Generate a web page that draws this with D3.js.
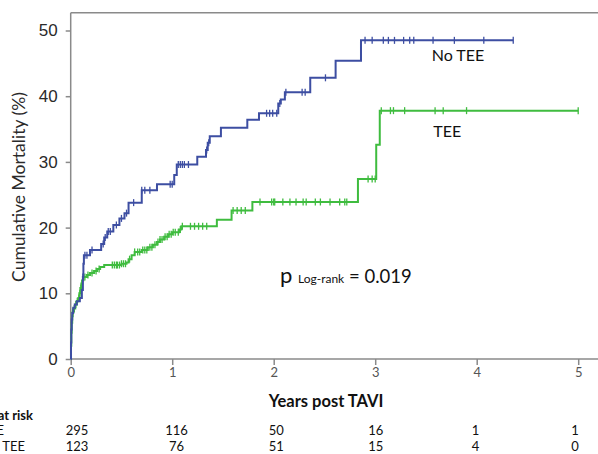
<!DOCTYPE html>
<html><head><meta charset="utf-8">
<script src="https://cdn.jsdelivr.net/npm/d3@7"></script>
<style>
html,body{margin:0;padding:0;background:#fff;overflow:hidden;}
svg{display:block;}
</style></head>
<body><svg id="chart" width="598" height="454"></svg>
<script>
// ---- Data ----
const xTicks = [0, 1, 2, 3, 4, 5];
const yTicks = [0, 10, 20, 30, 40, 50];

// No TEE (blue) step function: time (years) and cumulative mortality (%)
const noTeeTimes  = [0, 0.003, 0.006, 0.01, 0.015, 0.025, 0.04, 0.06, 0.09, 0.11, 0.12, 0.125, 0.13, 0.19, 0.30, 0.33, 0.36, 0.42, 0.48, 0.53, 0.57, 0.70, 0.85, 1.02, 1.045, 1.247, 1.333, 1.35, 1.37, 1.48, 1.74, 1.855, 2.045, 2.07, 2.11, 2.36, 2.61, 2.86];
const noTeeValues = [0, 2.5, 4.5, 6.0, 7.0, 7.8, 8.3, 8.8, 9.3, 10.5, 12.5, 14.5, 15.8, 16.6, 17.5, 18.5, 19.4, 20.4, 21.4, 22.2, 23.8, 25.7, 26.6, 28.0, 29.6, 30.8, 31.8, 32.9, 33.9, 35.2, 36.4, 37.4, 38.9, 39.5, 40.6, 42.8, 45.4, 48.5];
const noTeeEnd = 4.36;
const noTeeCensored = [0.12, 0.14, 0.16, 0.21, 0.32, 0.34, 0.37, 0.39, 0.45, 0.50, 0.55, 0.62, 0.70, 0.73, 0.78, 0.98, 1.00, 1.06, 1.08, 1.10, 1.12, 1.16, 1.34, 1.36, 1.93, 1.96, 1.99, 2.03, 2.06, 2.12, 2.28, 2.31, 2.51, 2.90, 2.97, 3.08, 3.13, 3.19, 3.28, 3.34, 3.38, 3.57, 3.78, 4.07, 4.36];

// TEE (green) step function
const teeTimes  = [0, 0.003, 0.006, 0.01, 0.015, 0.02, 0.03, 0.045, 0.06, 0.075, 0.085, 0.095, 0.105, 0.115, 0.125, 0.16, 0.19, 0.23, 0.26, 0.29, 0.33, 0.50, 0.55, 0.57, 0.60, 0.63, 0.70, 0.76, 0.81, 0.85, 0.88, 0.92, 0.96, 1.00, 1.07, 1.09, 1.44, 1.585, 1.79, 2.83, 3.01, 3.045];
const teeValues = [0, 2.0, 4.0, 5.5, 6.5, 7.2, 7.7, 8.3, 8.8, 9.3, 10.0, 10.8, 11.5, 12.0, 12.5, 12.8, 13.1, 13.4, 13.7, 14.0, 14.3, 14.5, 14.7, 15.2, 15.8, 16.3, 16.6, 17.0, 17.4, 17.8, 18.2, 18.6, 19.0, 19.3, 19.7, 20.2, 21.2, 22.6, 23.9, 27.4, 32.6, 37.8];
const teeEnd = 5.0;
const teeCensored = [0.02, 0.035, 0.05, 0.065, 0.08, 0.09, 0.10, 0.11, 0.14, 0.17, 0.21, 0.25, 0.28, 0.41, 0.43, 0.45, 0.46, 0.48, 0.50, 0.52, 0.54, 0.58, 0.63, 0.66, 0.68, 0.71, 0.73, 0.75, 0.78, 0.80, 0.83, 0.86, 0.88, 0.90, 0.93, 0.95, 0.97, 0.99, 1.01, 1.03, 1.06, 1.08, 1.10, 1.18, 1.22, 1.26, 1.30, 1.34, 1.60, 1.64, 1.68, 1.72, 1.865, 1.98, 2.00, 2.01, 2.09, 2.16, 2.22, 2.29, 2.32, 2.41, 2.46, 2.555, 2.65, 2.70, 2.72, 2.93, 2.97, 3.00, 3.06, 3.15, 3.18, 3.29, 3.59, 3.67, 3.90, 5.0];

// Numbers at risk
const riskYears = [0, 1, 2, 3, 4, 5];
const riskNoTee = [295, 116, 50, 16, 1, 1];
const riskTee   = [123, 76, 51, 15, 4, 0];

const seriesLabels = ["No TEE", "TEE"];
const axisYTitle = "Cumulative Mortality (%)";
const axisXTitle = "Years post TAVI";
const riskTitle = "Number at risk";

// ---- Drawing ----
const svg = d3.select("#chart");
const blue = "#3d4ea2", green = "#3fbc3f", axisCol = "#8a8a8a";
const x = d3.scaleLinear().domain([0, 5]).range([70.7, 578.2]);
const y = d3.scaleLinear().domain([0, 50]).range([359, 30.5]);
const xRisk = d3.scaleLinear().domain([0, 5]).range([77, 575]);

// frame top & axis lines
svg.append("line").attr("x1", 70.7).attr("x2", 598).attr("y1", 12.7).attr("y2", 12.7)
  .attr("stroke", axisCol).attr("stroke-width", 1.5);

const yAxis = svg.append("g").attr("transform", "translate(70.7,0)")
  .call(d3.axisLeft(y).tickValues(yTicks).tickSize(5).tickPadding(8).tickSizeOuter(0).tickFormat(d3.format("d")));
yAxis.select(".domain").remove();
yAxis.append("line").attr("x1", 0).attr("x2", 0).attr("y1", 12.7).attr("y2", 359)
  .attr("stroke", axisCol).attr("stroke-width", 1.5);
yAxis.selectAll(".tick line").attr("stroke", axisCol).attr("stroke-width", 1.5);
yAxis.selectAll(".tick text").attr("font-family", "Liberation Sans, Arial, sans-serif")
  .attr("font-size", 17).attr("fill", "#2a2a2a");

const xAxis = svg.append("g").attr("transform", "translate(0,359)")
  .call(d3.axisBottom(x).tickValues(xTicks).tickSize(6).tickPadding(3).tickSizeOuter(0).tickFormat(d3.format("d")));
xAxis.select(".domain").remove();
xAxis.append("line").attr("x1", 70.7).attr("x2", 598).attr("y1", 0).attr("y2", 0)
  .attr("stroke", axisCol).attr("stroke-width", 1.5);
xAxis.selectAll(".tick line").attr("stroke", axisCol).attr("stroke-width", 1.5);
xAxis.selectAll(".tick text").attr("font-family", "Lato, sans-serif")
  .attr("font-size", 13).attr("fill", "#555");

// y title
svg.append("text").attr("transform", "translate(25,187) rotate(-90)")
  .attr("text-anchor", "middle").attr("font-family", "Lato, sans-serif")
  .attr("font-size", 17.5).attr("fill", "#2a2a2a").text(axisYTitle);

// x title
svg.append("text").attr("x", 326).attr("y", 407).attr("text-anchor", "middle")
  .attr("font-family", "Lato, sans-serif").attr("font-weight", "bold")
  .attr("font-size", 16.5).attr("fill", "#111").text(axisXTitle);

// curves
function drawSeries(times, values, endT, censored, color) {
  const pts = times.map((t, i) => [t, values[i]]);
  pts.push([endT, values[values.length - 1]]);
  const line = d3.line().x(d => x(d[0])).y(d => y(d[1])).curve(d3.curveStepAfter);
  svg.append("path").datum(pts).attr("d", line).attr("fill", "none")
    .attr("stroke", color).attr("stroke-width", 2);
  const valueAt = t => values[Math.max(0, d3.bisectRight(times, t) - 1)];
  svg.append("g").selectAll("line").data(censored).join("line")
    .attr("x1", d => x(d)).attr("x2", d => x(d))
    .attr("y1", d => y(valueAt(d)) - 3.5).attr("y2", d => y(valueAt(d)) + 3.5)
    .attr("stroke", color).attr("stroke-width", 1.3);
}
drawSeries(teeTimes, teeValues, teeEnd, teeCensored, green);
drawSeries(noTeeTimes, noTeeValues, noTeeEnd, noTeeCensored, blue);

// series labels
svg.append("text").attr("x", 431.7).attr("y", 60.7).attr("font-family", "Lato, sans-serif")
  .attr("font-size", 16).attr("fill", "#111").text(seriesLabels[0]);
svg.append("text").attr("x", 433.3).attr("y", 136.7).attr("font-family", "Lato, sans-serif")
  .attr("font-size", 16).attr("fill", "#111").text(seriesLabels[1]);

// p value
const pt = svg.append("text").attr("x", 280).attr("y", 283).attr("font-family", "Lato, sans-serif").attr("fill", "#111");
pt.append("tspan").attr("font-size", 22).text("p ");
pt.append("tspan").attr("font-size", 12).text("Log-rank");
pt.append("tspan").attr("font-size", 18.5).text(" = 0.019");

// risk table
svg.append("text").attr("x", 33).attr("y", 420).attr("text-anchor", "end")
  .attr("font-family", "Lato, sans-serif").attr("font-weight", "bold")
  .attr("font-size", 13).attr("fill", "#111").text(riskTitle);
svg.append("text").attr("x", 4).attr("y", 435).attr("text-anchor", "end")
  .attr("font-family", "Lato, sans-serif").attr("font-size", 13).attr("fill", "#111").text(seriesLabels[0]);
svg.append("text").attr("x", 25).attr("y", 451).attr("text-anchor", "end")
  .attr("font-family", "Lato, sans-serif").attr("font-size", 13).attr("fill", "#111").text(seriesLabels[1]);

svg.append("g").selectAll("text").data(riskYears).join("text")
  .attr("x", d => xRisk(d)).attr("y", 435).attr("text-anchor", "middle")
  .attr("font-family", "Lato, sans-serif").attr("font-size", 13).attr("fill", "#111")
  .text((d, i) => riskNoTee[i]);
svg.append("g").selectAll("text").data(riskYears).join("text")
  .attr("x", d => xRisk(d)).attr("y", 451).attr("text-anchor", "middle")
  .attr("font-family", "Lato, sans-serif").attr("font-size", 13).attr("fill", "#111")
  .text((d, i) => riskTee[i]);
</script>
</body></html>
